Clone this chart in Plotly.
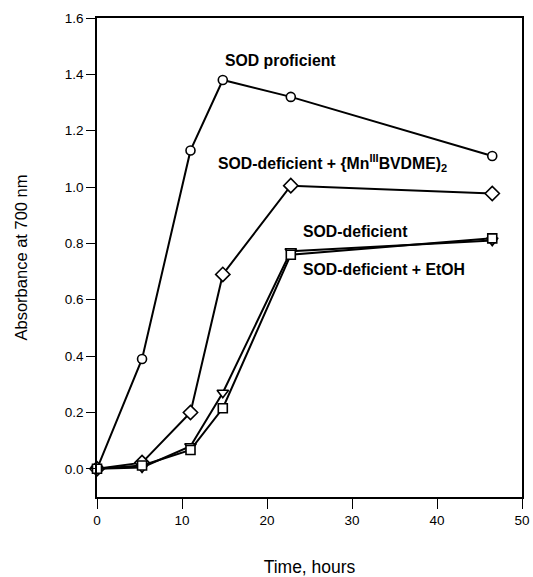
import plotly.graph_objects as go

# Sampling times (hours)
time_h = [0, 5.3, 11.0, 14.8, 22.8, 46.5]

# Absorbance at 700 nm for each culture
sod_proficient = [0.0, 0.39, 1.13, 1.38, 1.32, 1.11]
sod_def_mn = [0.0, 0.022, 0.20, 0.69, 1.005, 0.977]
sod_def = [0.0, 0.005, 0.08, 0.27, 0.772, 0.81]
sod_def_etoh = [0.0, 0.012, 0.067, 0.215, 0.76, 0.818]

x_ticks = [0, 10, 20, 30, 40, 50]
y_ticks = [0.0, 0.2, 0.4, 0.6, 0.8, 1.0, 1.2, 1.4, 1.6]

FONT = "Liberation Sans, Arial, sans-serif"

series = [
    (sod_proficient, "circle", 9, "SOD proficient"),
    (sod_def_mn, "diamond", 11, "SOD-deficient + {Mn(III)BVDME)2"),
    (sod_def, "triangle-down", 10, "SOD-deficient"),
    (sod_def_etoh, "square", 9, "SOD-deficient + EtOH"),
]

fig = go.Figure()
for values, symbol, size, name in series:
    fig.add_trace(go.Scatter(
        x=time_h, y=values, name=name, mode="lines+markers",
        line=dict(color="black", width=2),
        marker=dict(symbol=symbol, size=size, color="white",
                    line=dict(color="black", width=1.6)),
        cliponaxis=False,
    ))

labels = [
    (14.86, 1.448, "SOD proficient"),
    (14.0, 1.084, "SOD-deficient + {Mn<sup>III</sup>BVDME)<sub>2</sub>"),
    (24.0, 0.843, "SOD-deficient"),
    (24.0, 0.708, "SOD-deficient + EtOH"),
]
for lx, ly, txt in labels:
    fig.add_annotation(x=lx, y=ly, xref="x", yref="y", text=f"<b>{txt}</b>",
                       showarrow=False, xanchor="left", yanchor="middle",
                       font=dict(family=FONT, size=15.8, color="black"))

axis_common = dict(
    showline=True, linecolor="black", linewidth=1.6, mirror=True,
    ticks="outside", tickwidth=1.4, tickcolor="black",
    showgrid=False, zeroline=False, automargin=False,
    tickfont=dict(family=FONT, size=13.5, color="black"),
    ticklabeloverflow="allow",
)

fig.update_xaxes(range=[0, 50], tickvals=x_ticks, ticklen=10,
                 ticktext=[str(v) for v in x_ticks],
                 title=dict(text="Time, hours", standoff=37,
                            font=dict(family=FONT, size=17.5, color="black")),
                 **axis_common)
fig.update_yaxes(range=[-0.1, 1.6], tickvals=y_ticks, ticklen=9,
                 ticktext=[f"{v:.1f}" for v in y_ticks],
                 title=dict(text="Absorbance at 700 nm", standoff=33,
                            font=dict(family=FONT, size=16.5, color="black")),
                 **axis_common)

fig.update_layout(
    width=533, height=577,
    margin=dict(l=97, r=11, t=18, b=80),
    plot_bgcolor="white", paper_bgcolor="white",
    showlegend=False,
)

fig.write_html("out.html")
